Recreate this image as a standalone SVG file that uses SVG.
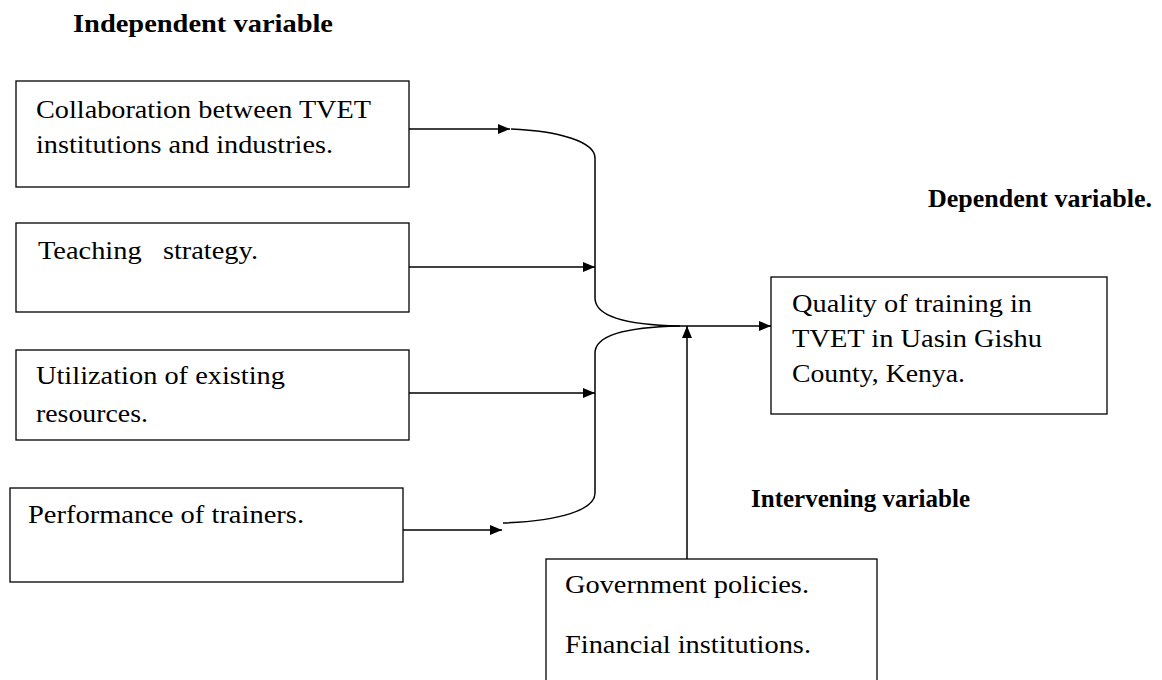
<svg xmlns="http://www.w3.org/2000/svg" width="1162" height="680" viewBox="0 0 1162 680">
<style>
.box{fill:#fff;stroke:#000;stroke-width:1.3}
.t{font-family:"Liberation Serif","Times New Roman",serif;font-size:25px;fill:#000}
.h{font-family:"Liberation Serif","Times New Roman",serif;font-size:25px;font-weight:bold;fill:#000}
.c{fill:none;stroke:#000;stroke-width:1.5}
</style>
<defs>
<marker id="ah" viewBox="0 0 12 10" refX="12" refY="5" markerWidth="12" markerHeight="10" markerUnits="userSpaceOnUse" orient="auto">
<path d="M0,0 L12,5 L0,10 Z" fill="#000"/>
</marker>
</defs>
<rect width="1162" height="680" fill="#fff"/>
<text class="h" x="73" y="32" textLength="260" lengthAdjust="spacingAndGlyphs">Independent variable</text>
<text class="h" x="928" y="207" textLength="224" lengthAdjust="spacingAndGlyphs">Dependent variable.</text>
<text class="h" x="751" y="507" textLength="219" lengthAdjust="spacingAndGlyphs">Intervening variable</text>
<g id="n1"><rect class="box" x="16" y="81" width="393" height="106"/>
<text class="t" x="36" y="118" textLength="335" lengthAdjust="spacingAndGlyphs">Collaboration between TVET</text>
<text class="t" x="36" y="153" textLength="297" lengthAdjust="spacingAndGlyphs">institutions and industries.</text></g>
<g id="n2"><rect class="box" x="16" y="223" width="393" height="89"/>
<text class="t" x="38" y="259" xml:space="preserve" textLength="220" lengthAdjust="spacingAndGlyphs">Teaching   strategy.</text></g>
<g id="n3"><rect class="box" x="16" y="350" width="393" height="90"/>
<text class="t" x="36" y="384" textLength="249" lengthAdjust="spacingAndGlyphs">Utilization of existing</text>
<text class="t" x="36" y="422" textLength="112" lengthAdjust="spacingAndGlyphs">resources.</text></g>
<g id="n4"><rect class="box" x="10" y="488" width="393" height="94"/>
<text class="t" x="28" y="523" textLength="276" lengthAdjust="spacingAndGlyphs">Performance of trainers.</text></g>
<g id="n5"><rect class="box" x="771" y="277" width="336" height="137"/>
<text class="t" x="792" y="312" textLength="240" lengthAdjust="spacingAndGlyphs">Quality of training in</text>
<text class="t" x="792" y="347" textLength="250" lengthAdjust="spacingAndGlyphs">TVET in Uasin Gishu</text>
<text class="t" x="792" y="382" textLength="173" lengthAdjust="spacingAndGlyphs">County, Kenya.</text></g>
<g id="n6"><rect class="box" x="546" y="559" width="331" height="130"/>
<text class="t" x="565" y="593" textLength="244" lengthAdjust="spacingAndGlyphs">Government policies.</text>
<text class="t" x="565" y="653" textLength="246" lengthAdjust="spacingAndGlyphs">Financial institutions.</text></g>
<g id="connectors">
<line class="c" x1="409" y1="129" x2="510" y2="129" marker-end="url(#ah)"/>
<line class="c" x1="409" y1="267" x2="595" y2="267" marker-end="url(#ah)"/>
<line class="c" x1="409" y1="393" x2="595" y2="393" marker-end="url(#ah)"/>
<line class="c" x1="403" y1="530" x2="502" y2="530" marker-end="url(#ah)"/>
<path class="c" d="M511,129 C560,131 595,142 595,158 L595,298 C595,316 625,325 680,326"/>
<path class="c" d="M503,523 C560,521 595,510 595,493 L595,353 C595,335 625,327 680,326"/>
<line class="c" x1="680" y1="326" x2="771" y2="326" marker-end="url(#ah)"/>
<line class="c" x1="687" y1="559" x2="687" y2="326" marker-end="url(#ah)"/>
</g>
</svg>
